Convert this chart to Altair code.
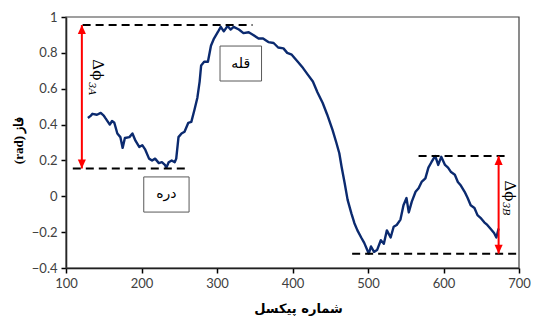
import altair as alt
import pandas as pd

# ---- data ----
pixel = [129, 133, 135, 141, 146, 150, 152, 158, 161, 164, 168, 172, 175, 178, 184, 188, 192, 197,
         201, 205, 210, 214, 218, 223, 227, 231, 233, 236, 240, 244, 246, 249, 253, 257, 262, 266,
         270, 274, 277, 279, 283, 288, 292, 296, 301, 305, 309, 314, 318, 322, 329, 335, 342, 348,
         355, 361, 368, 375, 381, 388, 393, 399, 407, 414, 420, 427, 433, 440, 446, 453, 458, 462,
         465, 469, 473, 478, 482, 486, 491, 495, 499, 501, 504, 508, 512, 517, 521, 525, 530, 534,
         538, 543, 547, 551, 554, 558, 563, 567, 571, 576, 580, 584, 589, 593, 597, 602, 606, 610,
         615, 619, 623, 628, 632, 636, 641, 645, 649, 654, 658, 662, 667, 670, 673]
phase = [0.437, 0.45, 0.46, 0.455, 0.465, 0.45, 0.437, 0.40, 0.42, 0.41, 0.35, 0.33, 0.27, 0.325,
         0.33, 0.35, 0.31, 0.275, 0.285, 0.26, 0.21, 0.20, 0.21, 0.185, 0.19, 0.175, 0.16, 0.19,
         0.20, 0.19, 0.21, 0.33, 0.35, 0.36, 0.41, 0.415, 0.48, 0.55, 0.64, 0.73, 0.75, 0.75, 0.84,
         0.88, 0.915, 0.945, 0.92, 0.95, 0.93, 0.945, 0.93, 0.91, 0.915, 0.90, 0.88, 0.88, 0.86,
         0.855, 0.83, 0.825, 0.80, 0.79, 0.75, 0.715, 0.68, 0.64, 0.58, 0.52, 0.455, 0.37, 0.30,
         0.24, 0.165, 0.075, -0.02, -0.095, -0.15, -0.19, -0.23, -0.26, -0.30, -0.32, -0.28, -0.31,
         -0.30, -0.245, -0.265, -0.19, -0.23, -0.17, -0.16, -0.13, -0.05, -0.01, -0.09, -0.03, 0.025,
         0.045, 0.08, 0.10, 0.16, 0.19, 0.225, 0.175, 0.22, 0.175, 0.16, 0.135, 0.12, 0.08, 0.06,
         0.025, -0.01, -0.05, -0.065, -0.105, -0.12, -0.145, -0.16, -0.18, -0.205, -0.23, -0.18]

x_ticks = [100, 200, 300, 400, 500, 600, 700]
y_ticks = [-0.4, -0.2, 0, 0.2, 0.4, 0.6, 0.8, 1]

dash_x1 = [122, 109, 567, 479]
dash_x2 = [347, 263, 687, 697]
dash_y = [0.955, 0.155, 0.225, -0.32]

arrow_x = [121, 673]
arrow_top = [0.955, 0.225]
arrow_bottom = [0.155, -0.32]

box_labels = ["قله", "دره"]
box_x1 = [304, 203]
box_x2 = [359, 263]
box_y1 = [0.838, 0.108]
box_y2 = [0.643, -0.088]

delta_labels = ["Δϕ", "Δϕ"]
delta_x = [142, 688]
delta_y = [0.705, 0.03]
sub_labels = ["3A", "3B"]
sub_x = [135, 683]
sub_y = [0.6, -0.07]

x_title = "شماره پیکسل"
y_title = "(rad) فاز"

# ---- tables ----
line_df = pd.DataFrame({"x": pixel, "y": phase})
dash_df = pd.DataFrame({"x1": dash_x1, "x2": dash_x2, "y": dash_y})
arrow_df = pd.DataFrame({"x": arrow_x, "top": arrow_top, "bottom": arrow_bottom})
box_df = pd.DataFrame({"label": box_labels, "x1": box_x1, "x2": box_x2, "y1": box_y1, "y2": box_y2})
box_df["xc"] = (box_df.x1 + box_df.x2) / 2
box_df["yc"] = (box_df.y1 + box_df.y2) / 2
delta_df = pd.DataFrame({"label": delta_labels, "x": delta_x, "y": delta_y})
sub_df = pd.DataFrame({"label": sub_labels, "x": sub_x, "y": sub_y})
frame_df = pd.DataFrame({"x1": [x_ticks[0]], "x2": [x_ticks[-1]],
                         "y1": [y_ticks[0]], "y2": [y_ticks[-1]]})

xs = alt.Scale(domain=[x_ticks[0], x_ticks[-1]], nice=False, zero=False)
ys = alt.Scale(domain=[y_ticks[0], y_ticks[-1]], nice=False, zero=False)

axis_style = dict(
    grid=False, labelOverlap=False, labelFlush=False, domainColor="#000000", domainWidth=1.5,
    tickColor="#000000", tickWidth=1.5, tickSize=5, labelFont="Lato", labelFontSize=13,
    labelColor="#404040", labelPadding=4, titleColor="#000000", titleFontWeight="bold",
    titleFontSize=13, titleAlign="center", titleBaseline="middle", tickCount=50,
)

x_axis = alt.Axis(values=x_ticks, title=x_title, format="d", titleX=232, titleY=40,
                  titleFont="DejaVu Sans", **axis_style)
y_axis = alt.Axis(values=y_ticks, title=y_title,
                  labelExpr="datum.value == 0 ? '0' : datum.value == 1 ? '1' : format(datum.value, '.1f')",
                  titleX=-48, titleY=123, titleAngle=-90, titleFont="Liberation Serif",
                  **axis_style)

# plot frame (top and right edges visible above the axis lines)
frame = alt.Chart(frame_df).mark_rect(fill="#FFFFFF", fillOpacity=0, stroke="#404040",
                                      strokeWidth=1.2).encode(
    x=alt.X("x1:Q", scale=xs, axis=x_axis), x2="x2:Q",
    y=alt.Y("y1:Q", scale=ys, axis=y_axis), y2="y2:Q",
)

line = alt.Chart(line_df).mark_line(color="#0B2A6F", strokeWidth=2.4, strokeJoin="round").encode(
    x=alt.X("x:Q", scale=xs), y=alt.Y("y:Q", scale=ys),
)

dashes = alt.Chart(dash_df).mark_rule(color="#000000", strokeWidth=2, strokeDash=[8, 5]).encode(
    x=alt.X("x1:Q", scale=xs), x2="x2:Q", y=alt.Y("y:Q", scale=ys)
)

arrows = alt.Chart(arrow_df).mark_rule(color="#FF0000", strokeWidth=2).encode(
    x=alt.X("x:Q", scale=xs), y=alt.Y("top:Q", scale=ys), y2="bottom:Q"
)
head_up = alt.Chart(arrow_df).mark_point(
    shape="M0,0 L-0.9,2 L0.9,2 Z", filled=True, color="#FF0000", size=81, opacity=1
).encode(x=alt.X("x:Q", scale=xs), y=alt.Y("top:Q", scale=ys))
head_down = alt.Chart(arrow_df).mark_point(
    shape="M0,0 L-0.9,-2 L0.9,-2 Z", filled=True, color="#FF0000", size=81, opacity=1
).encode(x=alt.X("x:Q", scale=xs), y=alt.Y("bottom:Q", scale=ys))

boxes = alt.Chart(box_df).mark_rect(fill="#FFFFFF", stroke="#595959", strokeWidth=1).encode(
    x=alt.X("x1:Q", scale=xs), x2="x2:Q", y=alt.Y("y1:Q", scale=ys), y2="y2:Q"
)
box_text = alt.Chart(box_df).mark_text(font="DejaVu Sans", fontSize=14, color="#000000",
                                       align="center", baseline="middle").encode(
    x=alt.X("xc:Q", scale=xs), y=alt.Y("yc:Q", scale=ys), text="label:N"
)

delta_text = alt.Chart(delta_df).mark_text(font="DejaVu Serif", fontSize=15, angle=90,
                                           color="#000000", align="center",
                                           baseline="middle").encode(
    x=alt.X("x:Q", scale=xs), y=alt.Y("y:Q", scale=ys), text="label:N"
)
sub_text = alt.Chart(sub_df).mark_text(font="DejaVu Serif", fontSize=10, angle=90,
                                       fontStyle="italic", color="#000000", align="center",
                                       baseline="middle").encode(
    x=alt.X("x:Q", scale=xs), y=alt.Y("y:Q", scale=ys), text="label:N"
)

chart = alt.layer(
    frame, line, dashes, arrows, head_up, head_down, boxes, box_text, delta_text, sub_text
).properties(
    width=453, height=251,
    autosize=alt.AutoSizeParams(type="none"),
    padding={"left": 58, "top": 9, "right": 12, "bottom": 48},
    view=alt.ViewBackground(stroke=None),
)

chart.save("out.html", embed_options={"renderer": "svg", "actions": False})
